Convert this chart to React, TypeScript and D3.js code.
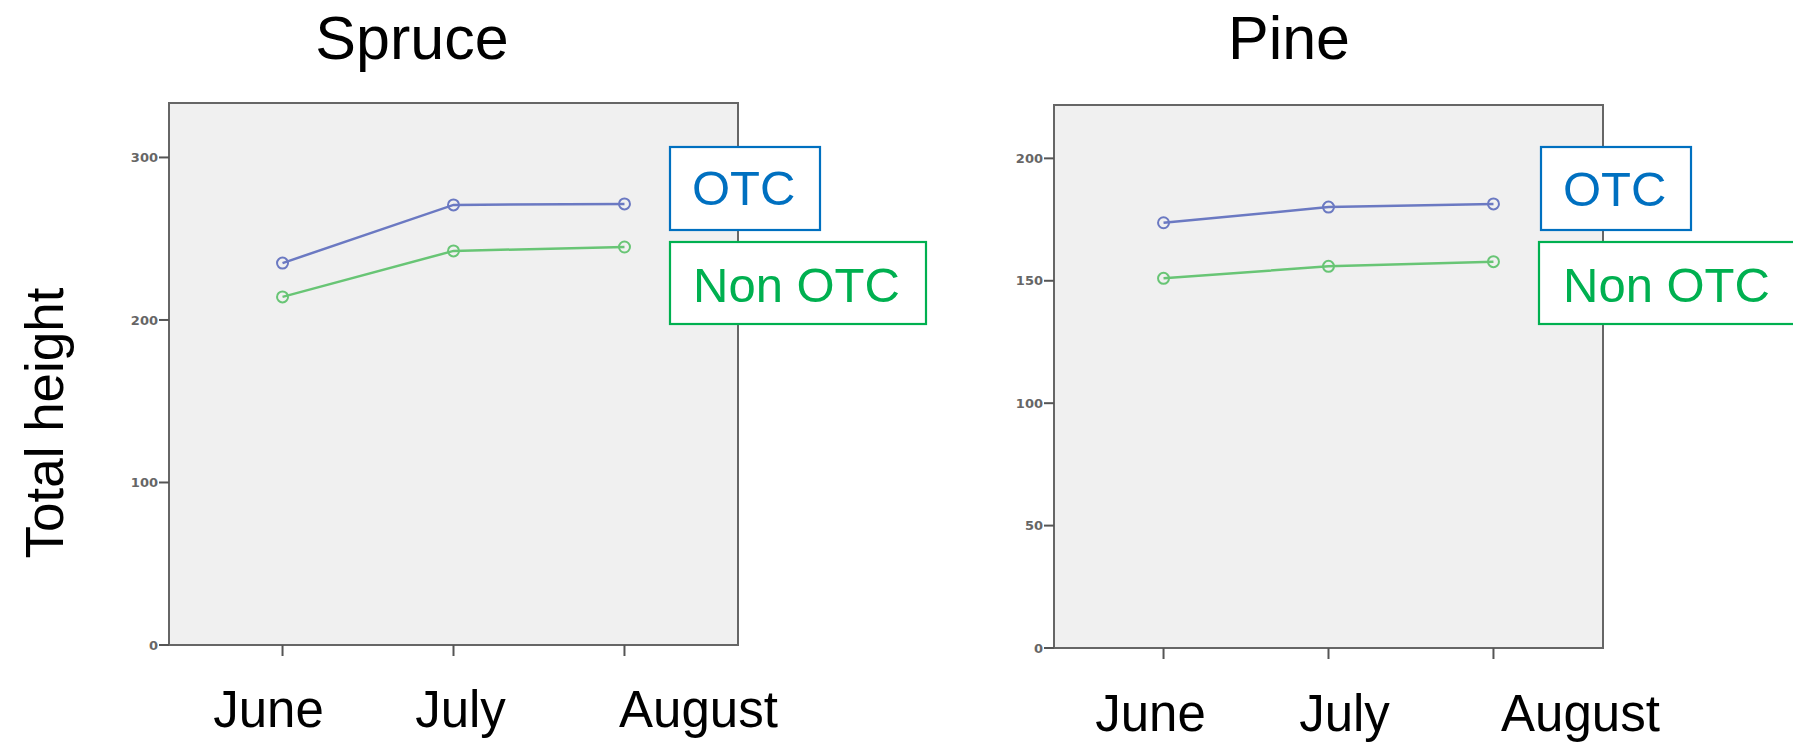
import React from 'react';
import * as d3 from 'd3';

const categories = ['June', 'July', 'August'];
const seriesNames = ['OTC', 'Non OTC'];
const panelTitles = ['Spruce', 'Pine'];
const yTitle = 'Total height';

const spruceOTC = [235.0, 270.8, 271.4];
const spruceNonOTC = [214.2, 242.5, 244.9];
const pineOTC = [173.7, 180.1, 181.4];
const pineNonOTC = [151.0, 155.9, 157.8];

const spruceTicks = [0, 100, 200, 300];
const pineTicks = [0, 50, 100, 150, 200];
const spruceMax = 333.5;
const pineMax = 221.8;

const W = 1793;
const H = 743;
const FONT = '"Liberation Sans", Arial, sans-serif';
const TICKFONT = '"DejaVu Sans", sans-serif';

const lineColors = ['#6b79c2', '#68c575'];
const legendColors = ['#0070C0', '#00B050'];

type Panel = {
  title: string;
  frame: { x0: number; x1: number; y0: number; y1: number };
  yMax: number;
  ticks: number[];
  series: number[][];
  titleX: number;
  titleY: number;
  labelOffsets: number[];
  labelY: number;
  legend: { bx: number; by: number; bw: number; bh: number; tx: number; ty: number }[];
};

const panels: Panel[] = [
  {
    title: panelTitles[0],
    frame: { x0: 169, x1: 738, y0: 103, y1: 645 },
    yMax: spruceMax,
    ticks: spruceTicks,
    series: [spruceOTC, spruceNonOTC],
    titleX: 412,
    titleY: 59,
    labelOffsets: [-14, 7, 74],
    labelY: 727,
    legend: [
      { bx: 670, by: 147, bw: 150, bh: 83, tx: 692, ty: 205 },
      { bx: 670, by: 242, bw: 256, bh: 82, tx: 693, ty: 302 },
    ],
  },
  {
    title: panelTitles[1],
    frame: { x0: 1054, x1: 1603, y0: 105, y1: 648 },
    yMax: pineMax,
    ticks: pineTicks,
    series: [pineOTC, pineNonOTC],
    titleX: 1289,
    titleY: 59,
    labelOffsets: [-13, 16, 87],
    labelY: 731,
    legend: [
      { bx: 1541, by: 147, bw: 150, bh: 83, tx: 1563, ty: 206 },
      { bx: 1539, by: 242, bw: 256, bh: 82, tx: 1563, ty: 302 },
    ],
  },
];

function PanelView({ p }: { p: Panel }) {
  const { x0, x1, y0, y1 } = p.frame;
  const x = d3.scalePoint<string>().domain(categories).range([x0, x1]).padding(0.664);
  const y = d3.scaleLinear().domain([0, p.yMax]).range([y1, y0]);
  const line = d3
    .line<number>()
    .x((_, i) => x(categories[i]) as number)
    .y((d) => y(d));

  return (
    <g>
      <text x={p.titleX} y={p.titleY} textAnchor="middle" fontFamily={FONT} fontSize={61} fill="#000">
        {p.title}
      </text>
      <rect x={x0} y={y0} width={x1 - x0} height={y1 - y0} fill="#f0f0f0" stroke="#666" strokeWidth={2} />
      {p.ticks.map((t) => (
        <g key={t}>
          <line x1={x0 - 10} x2={x0} y1={y(t)} y2={y(t)} stroke="#555" strokeWidth={2} />
          <text
            x={x0 - 11}
            y={y(t)}
            dy="0.36em"
            textAnchor="end"
            fontFamily={TICKFONT}
            fontSize={13}
            fontWeight="bold"
            fill="#666"
          >
            {t}
          </text>
        </g>
      ))}
      {categories.map((c, i) => (
        <g key={c}>
          <line x1={x(c)} x2={x(c)} y1={y1} y2={y1 + 11} stroke="#555" strokeWidth={2} />
          <text
            x={(x(c) as number) + p.labelOffsets[i]}
            y={p.labelY}
            textAnchor="middle"
            fontFamily={FONT}
            fontSize={51}
            fill="#000"
          >
            {c}
          </text>
        </g>
      ))}
      {p.series.map((s, si) => (
        <g key={si}>
          <path d={line(s) || ''} fill="none" stroke={lineColors[si]} strokeWidth={2.5} />
          {s.map((v, i) => (
            <circle
              key={i}
              cx={x(categories[i])}
              cy={y(v)}
              r={5.5}
              fill="none"
              stroke={lineColors[si]}
              strokeWidth={2}
            />
          ))}
        </g>
      ))}
      {p.legend.map((l, i) => (
        <g key={i}>
          <rect x={l.bx} y={l.by} width={l.bw} height={l.bh} fill="#fff" stroke={legendColors[i]} strokeWidth={2.2} />
          <text x={l.tx} y={l.ty} fontFamily={FONT} fontSize={49} fill={legendColors[i]}>
            {seriesNames[i]}
          </text>
        </g>
      ))}
    </g>
  );
}

export default function App() {
  return (
    <svg
      width={W}
      height={H}
      viewBox={`0 0 ${W} ${H}`}
      style={{ position: 'absolute', left: 0, top: 0, background: '#fff' }}
    >
      <rect width={W} height={H} fill="#fff" />
      <text
        transform={`translate(63, 423) rotate(-90)`}
        textAnchor="middle"
        fontFamily={FONT}
        fontSize={53}
        fill="#000"
      >
        {yTitle}
      </text>
      {panels.map((p) => (
        <PanelView key={p.title} p={p} />
      ))}
    </svg>
  );
}
